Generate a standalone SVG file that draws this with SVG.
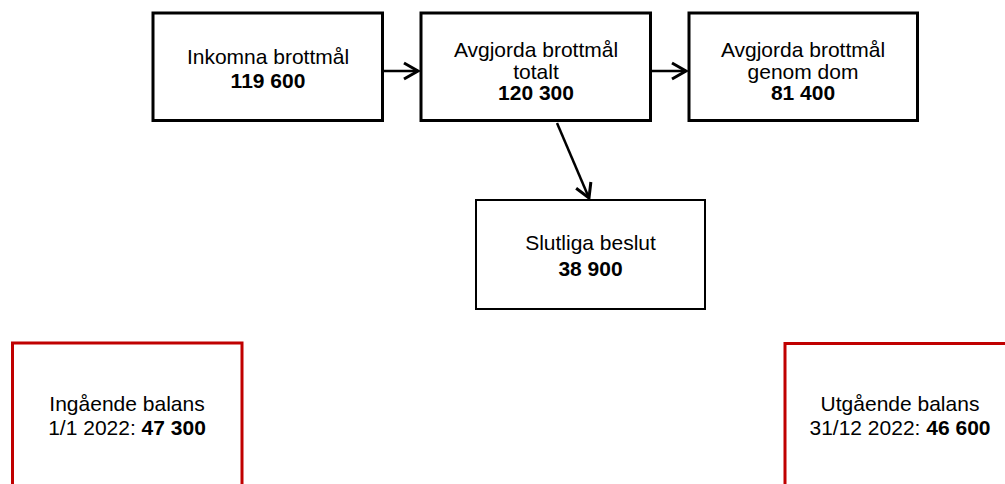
<svg xmlns="http://www.w3.org/2000/svg" width="1005" height="484" viewBox="0 0 1005 484">
<style>
text{font-family:"Liberation Sans",Arial,sans-serif;font-size:21px;fill:#000;text-anchor:middle}
.b{font-weight:bold}
.box{fill:#fff;stroke:#000;stroke-width:3}
.thin{fill:#fff;stroke:#000;stroke-width:2}
.red{fill:#fff;stroke:#C00000;stroke-width:3}
.conn{stroke:#000;stroke-width:2.5;fill:none}
</style>
<defs>
<marker id="arr" markerUnits="userSpaceOnUse" markerWidth="24" markerHeight="24" viewBox="-20 -12 24 24" refX="0" refY="0" orient="auto">
<path d="M-14,-8 L0,0 L-14,8" fill="none" stroke="#000" stroke-width="3"/>
</marker>
</defs>
<g id="n1"><rect class="box" x="153" y="13" width="229.5" height="107.5"/>
<text x="268" y="63.5">Inkomna brottmål</text><text class="b" x="268" y="87.5">119 600</text></g>
<g id="n2"><rect class="box" x="421" y="13" width="229.5" height="107.5"/>
<text x="536" y="57">Avgjorda brottmål</text><text x="536" y="78.5">totalt</text><text class="b" x="536" y="100">120 300</text></g>
<g id="n3"><rect class="box" x="689" y="13" width="228.5" height="107.5"/>
<text x="803" y="57">Avgjorda brottmål</text><text x="803" y="78.5">genom dom</text><text class="b" x="803" y="100">81 400</text></g>
<g id="n4"><rect class="thin" x="476" y="200" width="229" height="109"/>
<text x="590.5" y="250">Slutliga beslut</text><text class="b" x="590.5" y="275.5">38 900</text></g>
<g id="n5"><rect class="red" x="12.5" y="343" width="229.5" height="160"/>
<text x="127" y="411">Ingående balans</text><text x="127" y="435">1/1 2022: <tspan class="b">47 300</tspan></text></g>
<g id="n6"><rect class="red" x="785" y="343.5" width="229.5" height="160"/>
<text x="900" y="411">Utgående balans</text><text x="900" y="435">31/12 2022: <tspan class="b">46 600</tspan></text></g>
<g id="connectors">
<line class="conn" x1="383" y1="71" x2="418" y2="71" marker-end="url(#arr)"/>
<line class="conn" x1="651" y1="71" x2="686" y2="71" marker-end="url(#arr)"/>
<line class="conn" x1="557" y1="123" x2="589" y2="198" marker-end="url(#arr)"/>
</g>
</svg>
